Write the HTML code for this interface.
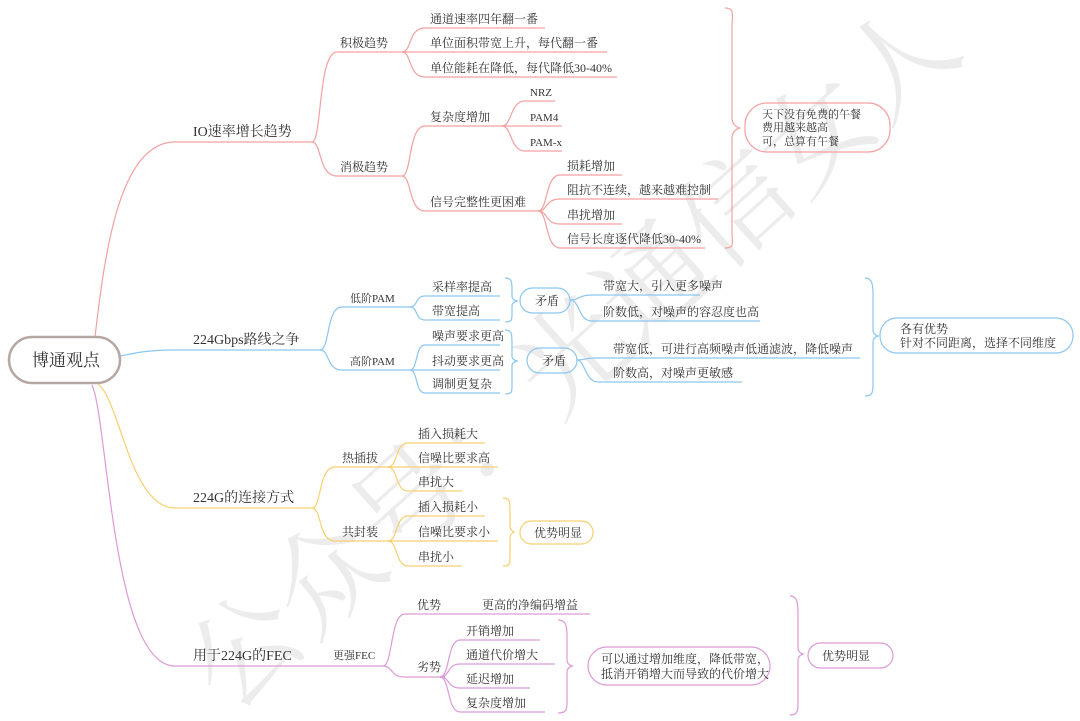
<!DOCTYPE html>
<html><head><meta charset="utf-8"><style>
html,body{margin:0;padding:0;background:#fff;width:1080px;height:721px;overflow:hidden}
svg text{font-family:"Liberation Serif","Noto Serif CJK SC",serif;fill:#333;font-size:12px}
.l1{font-size:14px}
</style></head><body>
<svg width="1080" height="721" viewBox="0 0 1080 721" xmlns="http://www.w3.org/2000/svg">
<g font-size="110" fill="#000" opacity="0.07" transform="translate(230,715) rotate(-42)">
<text x="0" y="0" style="font-size:110px;fill:#000">公众号：光通信女人</text></g>

<!-- RED -->
<g fill="none" stroke="#f4a0a0" stroke-width="1.2">
<path d="M95 337 C105 250 120 142 175 142 L312 142"/>
<path d="M312 142 C322 142 318 52 337 52 L402 52"/>
<path d="M312 142 C322 142 318 176 337 176 L402 176"/>
<path d="M402 52 C412 52 408 28 425 28 L545 28"/>
<path d="M402 52 L607 52"/>
<path d="M402 52 C412 52 408 77 425 77 L617 77"/>
<path d="M402 176 C412 176 408 126 425 126 L502 126"/>
<path d="M402 176 C412 176 408 211 425 211 L538 211"/>
<path d="M502 126 C512 126 510 101 525 101 L555 101"/>
<path d="M502 126 L562 126"/>
<path d="M502 126 C512 126 510 151 525 151 L562 151"/>
<path d="M538 211 C548 211 545 175 560 175 L622 175"/>
<path d="M538 211 C548 211 545 199 560 199 L718 199"/>
<path d="M538 211 C548 211 545 224 560 224 L622 224"/>
<path d="M538 211 C548 211 545 248 560 248 L705 248"/>
<path d="M725 8 C735 8 732 14 732 30 L732 118 C732 124 736 127 740 128 C736 129 732 132 732 138 L732 230 C732 244 735 248 725 248"/>
<rect x="745" y="103" width="145" height="49" rx="22"/>
</g>
<text class="l1" x="193" y="136">IO速率增长趋势</text>
<text x="340" y="47">积极趋势</text>
<text x="340" y="171">消极趋势</text>
<text x="430" y="23">通道速率四年翻一番</text>
<text x="430" y="47">单位面积带宽上升，每代翻一番</text>
<text x="430" y="72">单位能耗在降低，每代降低30-40%</text>
<text x="430" y="121">复杂度增加</text>
<text x="430" y="206">信号完整性更困难</text>
<text x="530" y="96" style="font-size:11px">NRZ</text>
<text x="530" y="121" style="font-size:11px">PAM4</text>
<text x="530" y="146" style="font-size:11px">PAM-x</text>
<text x="567" y="170">损耗增加</text>
<text x="567" y="194">阻抗不连续，越来越难控制</text>
<text x="567" y="219">串扰增加</text>
<text x="567" y="243">信号长度逐代降低30-40%</text>
<text x="762" y="118" style="font-size:11px">天下没有免费的午餐</text>
<text x="762" y="131" style="font-size:11px">费用越来越高</text>
<text x="762" y="145" style="font-size:11px">可，总算有午餐</text>

<!-- BLUE -->
<g fill="none" stroke="#8cc6f0" stroke-width="1.2">
<path d="M120 356 C140 352 150 350 175 350 L320 350"/>
<path d="M320 350 C330 350 326 307 342 307 L410 307"/>
<path d="M320 350 C330 350 326 370 342 370 L410 370"/>
<path d="M410 307 C418 307 415 296 425 296 L500 296"/>
<path d="M410 307 C418 307 415 320 425 320 L500 320"/>
<path d="M410 370 C418 370 415 345 425 345 L500 345"/>
<path d="M410 370 L500 370"/>
<path d="M410 370 C418 370 415 393 425 393 L500 393"/>
<path d="M505 278 C512 278 512 282 512 290 L512 296 C512 299 514 300 517 301 C514 302 512 303 512 306 L512 314 C512 320 512 322 505 322"/>
<path d="M505 330 C512 330 512 334 512 344 L512 356 C512 359 514 360 517 361 C514 362 512 363 512 366 L512 386 C512 392 512 394 505 394"/>
<rect x="520" y="288" width="50" height="25" rx="12.5"/>
<rect x="527" y="348" width="50" height="25" rx="12.5"/>
<path d="M570 300 C580 300 578 295 592 295 L700 295"/>
<path d="M570 300 C580 300 578 321 592 321 L760 321"/>
<path d="M577 360 C585 360 585 358 595 358 L860 358"/>
<path d="M577 360 C585 360 585 382 598 382 L742 382"/>
<path d="M865 278 C872 278 873 284 873 295 L873 330 C873 333 875 335 878 336 C875 337 873 339 873 342 L873 385 C873 393 872 396 865 396"/>
<rect x="880" y="318" width="193" height="35" rx="17"/>
</g>
<text class="l1" x="193" y="344">224Gbps路线之争</text>
<text x="350" y="302" style="font-size:11px">低阶PAM</text>
<text x="350" y="365" style="font-size:11px">高阶PAM</text>
<text x="432" y="291">采样率提高</text>
<text x="432" y="315">带宽提高</text>
<text x="432" y="340">噪声要求更高</text>
<text x="432" y="365">抖动要求更高</text>
<text x="432" y="388">调制更复杂</text>
<text x="535" y="305">矛盾</text>
<text x="542" y="365">矛盾</text>
<text x="603" y="290">带宽大，引入更多噪声</text>
<text x="603" y="316">阶数低，对噪声的容忍度也高</text>
<text x="613" y="353">带宽低，可进行高频噪声低通滤波，降低噪声</text>
<text x="613" y="377">阶数高，对噪声更敏感</text>
<text x="900" y="333">各有优势</text>
<text x="900" y="347">针对不同距离，选择不同维度</text>

<!-- YELLOW -->
<g fill="none" stroke="#f8cf70" stroke-width="1.2">
<path d="M98 384 C120 400 130 508 175 508 L312 508"/>
<path d="M312 508 C322 508 318 467 335 467 L388 467"/>
<path d="M312 508 C322 508 318 541 335 541 L388 541"/>
<path d="M388 467 C398 467 395 443 408 443 L485 443"/>
<path d="M388 467 L498 467"/>
<path d="M388 467 C398 467 395 491 408 491 L462 491"/>
<path d="M388 541 C398 541 395 516 408 516 L485 516"/>
<path d="M388 541 L498 541"/>
<path d="M388 541 C398 541 395 566 408 566 L462 566"/>
<path d="M503 498 C510 498 510 502 510 510 L510 526 C510 529 512 531 514 532 C512 533 510 535 510 538 L510 558 C510 564 510 566 503 566"/>
<rect x="520" y="521" width="73" height="23" rx="11.5"/>
</g>
<text class="l1" x="193" y="502">224G的连接方式</text>
<text x="342" y="462">热插拔</text>
<text x="342" y="536">共封装</text>
<text x="418" y="438">插入损耗大</text>
<text x="418" y="462">信噪比要求高</text>
<text x="418" y="486">串扰大</text>
<text x="418" y="511">插入损耗小</text>
<text x="418" y="536">信噪比要求小</text>
<text x="418" y="561">串扰小</text>
<text x="534" y="537">优势明显</text>

<!-- PINK -->
<g fill="none" stroke="#dc9ad8" stroke-width="1.2">
<path d="M92 385 C108 420 112 666 175 666 L308 666"/>
<path d="M308 666 L383 666"/>
<path d="M383 666 C393 666 390 614 405 614 L590 614"/>
<path d="M383 666 C393 666 390 677 405 677 L445 677"/>
<path d="M440 677 C450 677 447 640 460 640 L540 640"/>
<path d="M440 677 C450 677 447 664 460 664 L555 664"/>
<path d="M440 677 C450 677 447 688 460 688 L530 688"/>
<path d="M440 677 C450 677 447 712 460 712 L545 712"/>
<path d="M558 620 C566 620 567 626 567 636 L567 660 C567 663 569 665 572 666 C569 667 567 669 567 672 L567 702 C567 710 566 713 558 713"/>
<rect x="588" y="647" width="182" height="38" rx="19"/>
<path d="M790 596 C797 596 798 602 798 614 L798 648 C798 651 800 653 803 654 C800 655 798 657 798 660 L798 704 C798 712 797 715 790 715"/>
<rect x="808" y="643" width="85" height="25" rx="12.5"/>
</g>
<text class="l1" x="193" y="660">用于224G的FEC</text>
<text x="333" y="659" style="font-size:11px">更强FEC</text>
<text x="417" y="609">优势</text>
<text x="417" y="671">劣势</text>
<text x="482" y="609">更高的净编码增益</text>
<text x="466" y="635">开销增加</text>
<text x="466" y="659">通道代价增大</text>
<text x="466" y="683">延迟增加</text>
<text x="466" y="707">复杂度增加</text>
<text x="601" y="663">可以通过增加维度，降低带宽，</text>
<text x="601" y="678">抵消开销增大而导致的代价增大</text>
<text x="822" y="660">优势明显</text>

<!-- ROOT -->
<rect x="9" y="337" width="111" height="46" rx="23" fill="#fff" stroke="#b5a8a4" stroke-width="2.5"/>
<text x="32" y="366" style="font-size:17px">博通观点</text>
</svg>
</body></html>
